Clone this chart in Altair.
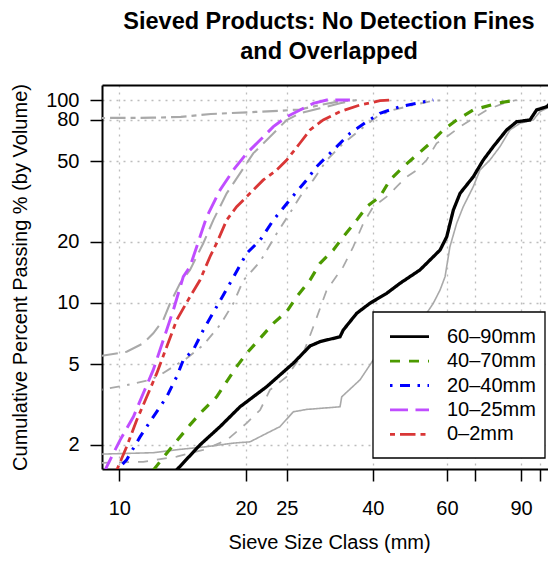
import altair as alt
import pandas as pd

FONT = "Liberation Sans"

series = ["60–90mm", "40–70mm", "20–40mm", "10–25mm", "0–2mm"]
colors = ["#000000", "#4C9A00", "#0000FF", "#C04DFF", "#D93636"]
gray_color = "#A9A9A9"

x_ticks = [10, 20, 25, 40, 60, 70, 90, 100]
y_ticks = [2, 5, 10, 20, 50, 80, 100]

# coloured curves (sieve size mm, cumulative % passing)
c6090_x = [13.5, 15.55, 17.35, 19.35, 22.39, 25.9, 28.38, 29.98, 33.44, 34.04, 36.64, 39.39, 43.17, 46.42,
           51.76, 54.7, 57.8, 59.95, 62.15, 64.48, 69.33, 73.2, 77.3, 83.2, 87.9, 94.5, 98.0, 103.6, 107.4]
c6090_y = [1.46, 2.0, 2.46, 3.08, 3.87, 5.05, 6.14, 6.45, 6.82, 7.36, 8.90, 9.97, 11.16, 12.5,
           14.54, 16.28, 18.24, 21.2, 28.7, 34.7, 41.9, 50.6, 58.9, 71.2, 78.2, 79.7, 89.3, 92.7, 100]
c4070_x = [12.04, 12.96, 14.72, 15.83, 17.03, 19.0, 20.07, 21.6, 23.22, 24.98, 26.39, 28.38, 29.98, 32.24,
           34.04, 36.64, 38.69, 41.6, 43.95, 47.27, 50.88, 54.7, 58.85, 63.3, 69.3, 78.8, 87.9]
c4070_y = [1.50, 1.82, 2.51, 2.97, 3.45, 4.86, 5.65, 6.70, 7.94, 9.06, 10.74, 12.98, 15.69, 18.24,
           21.2, 25.6, 29.8, 33.4, 40.4, 46.9, 53.6, 61.2, 71.2, 79.7, 89.3, 96.3, 100]
c2040_x = [9.85, 9.95, 10.41, 11.2, 12.04, 12.96, 13.69, 14.19, 14.99, 15.83, 17.03, 18.32, 20.07, 21.6,
           23.22, 25.4, 27.87, 29.4, 32.24, 35.3, 38.7, 41.6, 46.4, 50.9, 55.7]
c2040_y = [1.47, 1.53, 1.69, 2.19, 2.75, 3.45, 4.34, 5.24, 5.87, 7.36, 9.59, 12.5, 17.57, 20.4,
           25.6, 32.2, 40.4, 46.9, 56.7, 68.5, 78.2, 86.0, 92.7, 96.3, 100]
c1025_x = [9.2, 9.33, 10.04, 10.8, 11.4, 12.04, 12.72, 13.44, 14.19, 14.72, 15.27, 16.13, 17.35, 18.66,
           20.07, 21.6, 23.22, 24.98, 26.87, 28.9, 31.1, 35.3]
c1025_y = [1.45, 1.56, 2.11, 2.75, 3.59, 4.68, 6.57, 9.24, 13.48, 15.1, 18.94, 26.6, 36.0, 45.2,
           54.6, 63.5, 73.9, 82.7, 89.3, 96.3, 100, 100]
c002_x = [9.86, 10.41, 11.0, 11.62, 12.27, 12.96, 13.69, 14.72, 15.55, 16.42, 17.03, 17.99, 19.0, 20.44,
          21.98, 23.65, 24.98, 26.87, 28.38, 30.5, 33.44, 37.3, 41.6, 43.95]
c002_y = [1.50, 1.96, 2.65, 3.45, 4.50, 6.09, 8.25, 10.74, 12.98, 16.9, 19.7, 25.6, 29.8, 34.7,
          40.4, 45.2, 50.6, 61.4, 71.2, 79.7, 87.6, 94.5, 99.2, 100]

# grey (overlapped) curves
g6090_x = [9.0, 12.04, 13.94, 16.13, 18.66, 20.44, 22.39, 24.08, 25.9, 27.87, 33.44, 33.75, 37.3, 40.1,
           46.42, 49.0, 53.7, 55.7, 57.8, 59.4, 61.0, 63.3, 65.6, 69.3, 71.9, 75.9, 80.2, 84.7, 89.5,
           96.2, 99.8, 105.4, 107.4]
g6090_y = [1.80, 1.83, 1.90, 1.96, 2.04, 2.07, 2.28, 2.46, 2.91, 2.99, 3.08, 3.45, 4.18, 5.24,
           6.57, 7.36, 8.90, 9.97, 11.59, 13.48, 18.94, 24.7, 29.8, 37.4, 45.2, 50.6, 58.9, 71.2, 76.8,
           79.7, 87.6, 92.7, 100]
g4070_x = [9.0, 11.4, 13.69, 15.83, 17.99, 20.07, 21.6, 22.8, 24.98, 27.35, 28.9, 31.1, 34.04, 35.96,
           37.98, 40.1, 43.17, 45.6, 48.2, 50.9, 53.7, 56.7, 59.95, 64.5, 69.3, 74.6, 81.7, 87.9]
g4070_y = [1.63, 1.65, 1.75, 1.89, 2.11, 2.56, 2.97, 3.73, 4.34, 5.65, 7.64, 11.59, 15.1, 18.94,
           24.7, 29.8, 33.4, 37.4, 41.9, 45.2, 50.6, 61.2, 65.9, 73.9, 81.3, 89.3, 96.3, 100]
g2040_x = [9.0, 10.41, 11.83, 12.5, 14.46, 15.83, 17.35, 18.66, 19.7, 21.6, 23.65, 25.5, 26.87, 28.9,
           31.1, 34.04, 37.3, 40.9, 44.75, 49.9, 55.7, 59.95]
g2040_y = [3.73, 3.94, 4.18, 4.42, 5.34, 6.21, 7.79, 9.97, 12.9, 16.0, 22.0, 28.0, 33.4, 40.4,
           50.6, 61.2, 71.2, 82.7, 89.3, 94.5, 99.2, 100]
g1025_x = [9.0, 10.41, 11.4, 12.04, 12.72, 13.2, 13.94, 14.72, 15.83, 16.72, 17.99, 19.35, 20.8, 22.8,
           24.98, 26.87, 29.98, 33.44, 36.64]
g1025_y = [5.48, 5.75, 6.33, 7.09, 8.25, 9.97, 12.5, 14.54, 19.7, 25.6, 34.7, 43.5, 54.6, 65.9,
           79.7, 86.0, 91.0, 96.3, 100]
g002_x = [9.0, 12.0, 14.0, 16.5, 20.4, 24.0, 26.87, 30.0, 33.4, 36.0]
g002_y = [81.5, 81.8, 82.5, 85.3, 87.1, 88.5, 89.8, 94.5, 98.5, 100]

col_curves = [(c6090_x, c6090_y), (c4070_x, c4070_y), (c2040_x, c2040_y), (c1025_x, c1025_y), (c002_x, c002_y)]
gray_curves = [(g6090_x, g6090_y), (g4070_x, g4070_y), (g2040_x, g2040_y), (g1025_x, g1025_y), (g002_x, g002_y)]


def frame(curves):
    rows = []
    for name, (xs, ys) in zip(series, curves):
        for i, (xv, yv) in enumerate(zip(xs, ys)):
            rows.append({"series": name, "size": xv, "pct": yv, "idx": i})
    return pd.DataFrame(rows)


df_col = frame(col_curves)
df_gray = frame(gray_curves)
df_legend = pd.DataFrame({"series": series})

x_scale = alt.Scale(type="log", domain=[9.096, 104.3], nice=False)
y_scale = alt.Scale(type="log", domain=[1.521, 118.55], nice=False)
dash_scale = alt.Scale(domain=series, range=[[1, 0], [10, 9], [2.5, 7.5, 10, 7.5], [18, 7.5], [5, 5, 15.5, 5]])
color_scale = alt.Scale(domain=series, range=colors)

x_axis = alt.Axis(
    values=x_ticks,
    labelExpr="(datum.value == 70 || datum.value == 100) ? '' : '' + datum.value",
    labelOverlap=False, labelFlush=False,
    tickSize=12, tickWidth=1.5, tickColor="black",
    domainColor="black", domainWidth=2,
    labelFont=FONT, labelFontSize=20, labelColor="black", labelPadding=17,
    grid=True, gridDash=[2, 5], gridColor="#BDBDBD", gridWidth=1.3,
    title="Sieve Size Class (mm)", titleFont=FONT, titleFontSize=20, titleFontWeight="normal",
    titleColor="black", titleX=227, titleY=73, titleBaseline="middle", titleAlign="center",
)
y_axis = alt.Axis(
    values=y_ticks, labelOverlap=False, labelFlush=False,
    tickSize=12, tickWidth=1.5, tickColor="black",
    domainColor="black", domainWidth=2,
    labelFont=FONT, labelFontSize=20, labelColor="black", labelPadding=11,
    grid=True, gridDash=[2, 5], gridColor="#BDBDBD", gridWidth=1.3,
    title="Cumulative Percent Passing % (by Volume)", titleFont=FONT, titleFontSize=20,
    titleFontWeight="normal", titleColor="black", titleX=-82, titleY=192,
    titleBaseline="middle", titleAlign="center", titleAngle=270,
)
top_axis = alt.Axis(orient="top", labels=False, ticks=False, grid=False, title=None,
                    domainColor="black", domainWidth=2)

gray = alt.Chart(df_gray).mark_line(clip=True, color=gray_color).encode(
    x=alt.X("size:Q", scale=x_scale, axis=top_axis),
    y=alt.Y("pct:Q", scale=y_scale, axis=y_axis),
    strokeDash=alt.StrokeDash("series:N", scale=dash_scale, legend=None),
    strokeWidth=alt.StrokeWidth("series:N", scale=alt.Scale(domain=series, range=[1.6, 2.2, 2.2, 2.2, 2.2]), legend=None),
    detail="series:N",
    order="idx:Q",
)

colored = alt.Chart(df_col).mark_line(clip=True).encode(
    x=alt.X("size:Q", scale=x_scale, axis=x_axis),
    y=alt.Y("pct:Q", scale=y_scale, axis=y_axis),
    color=alt.Color("series:N", scale=color_scale, legend=None),
    strokeDash=alt.StrokeDash("series:N", scale=dash_scale, legend=None),
    strokeWidth=alt.StrokeWidth("series:N", scale=alt.Scale(domain=series, range=[3.3, 2.8, 2.8, 2.8, 2.8]), legend=None),
    order="idx:Q",
)

plot_layer = alt.layer(gray, colored).resolve_axis(x="independent").resolve_scale(strokeWidth="independent")

# legend drawn inside the plot, bottom right
legend_rows = alt.Scale(type="point", domain=series, range=[251.7, 349.3], padding=0)
legend_box = alt.Chart(df_legend.head(1)).mark_rect(fill="white", stroke="black", strokeWidth=1.3).encode(
    x=alt.value(271), x2=alt.value(443), y=alt.value(227), y2=alt.value(373)
)
legend_lines = alt.Chart(df_legend).mark_rule(strokeWidth=2.8).encode(
    x=alt.value(288), x2=alt.value(327),
    y=alt.Y("series:N", scale=legend_rows, axis=None),
    color=alt.Color("series:N", scale=color_scale, legend=None),
    strokeDash=alt.StrokeDash("series:N", scale=dash_scale, legend=None),
)
legend_text = alt.Chart(df_legend).mark_text(align="left", baseline="middle", font=FONT, fontSize=20,
                                             color="black").encode(
    x=alt.value(345),
    y=alt.Y("series:N", scale=legend_rows, axis=None),
    text="series:N",
)
legend_layer = alt.layer(legend_box, legend_lines, legend_text)

chart = alt.layer(plot_layer, legend_layer).resolve_scale(y="independent").properties(
    width=446, height=384,
    autosize="none",
    padding={"left": 94, "top": 77, "right": 0, "bottom": 84},
    title=alt.TitleParams(
        text=["Sieved Products: No Detection Fines", "and Overlapped"],
        font=FONT, fontSize=23.5, fontWeight="bold", color="black",
        anchor="middle", dx=4, offset=20, lineHeight=30,
    ),
).configure_view(stroke=None)

chart.save("out.html", embed_options={"renderer": "svg", "actions": False})
